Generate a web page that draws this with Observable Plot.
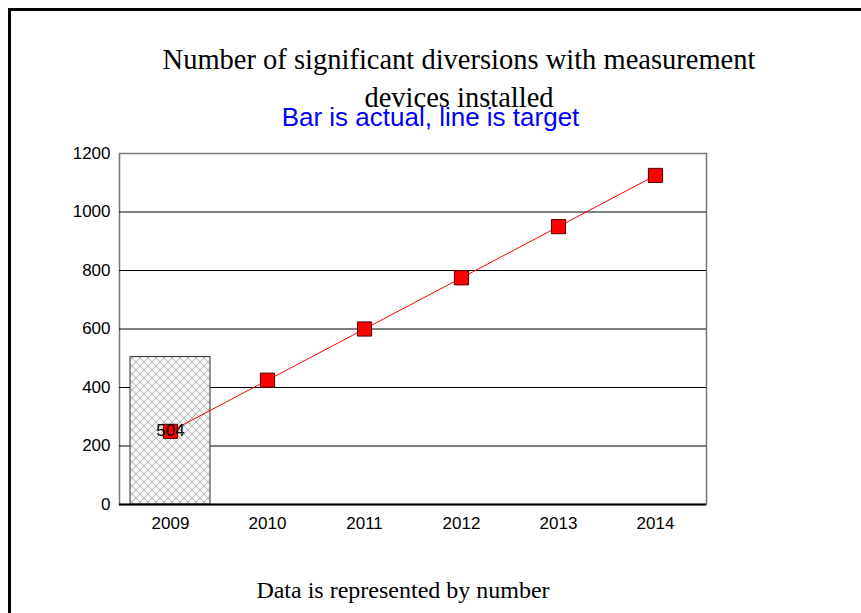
<!DOCTYPE html>
<html>
<head>
<meta charset="utf-8">
<script src="https://cdn.jsdelivr.net/npm/d3@7"></script>
<script src="https://cdn.jsdelivr.net/npm/@observablehq/plot@0.6"></script>
<style>
  html, body { margin: 0; padding: 0; background: #fff; }
  #page { position: relative; width: 861px; height: 613px; overflow: hidden; background: #fff; }
  #frame { position: absolute; left: 8px; top: 8px; width: 900px; height: 700px; border-left: 3px solid #000; border-top: 3px solid #000; }
  .t { position: absolute; white-space: nowrap; }
  #title { left: 0; width: 918px; top: 41px; text-align: center; font-family: "Liberation Serif", serif; font-size: 28.5px; line-height: 38px; color: #000; }
  #subtitle { left: 0; width: 861px; top: 102px; text-align: center; font-family: "Liberation Sans", Arial, sans-serif; font-size: 26px; color: #0000ff; }
  #caption { left: 0; width: 806px; top: 577px; text-align: center; font-family: "Liberation Serif", serif; font-size: 24px; color: #000; }
  #chart { position: absolute; left: 0; top: 130px; }
</style>
</head>
<body>
<div id="page">
  <div id="frame"></div>
  <div class="t" id="title">Number of significant diversions with measurement<br>devices installed</div>
  <div class="t" id="subtitle">Bar is actual, line is target</div>
  <div id="chart"></div>
  <div class="t" id="caption">Data is represented by number</div>
</div>
<script>
const years = ["2009", "2010", "2011", "2012", "2013", "2014"];
const actualYears = ["2009"];
const actualValues = [504];
const targetValues = [250, 425, 600, 775, 950, 1125];
const yTicks = [0, 200, 400, 600, 800, 1000, 1200];
const gridValues = [200, 400, 600, 800, 1000];

const actual = actualYears.map((y, i) => ({year: y, value: actualValues[i]}));
const target = years.map((y, i) => ({year: y, value: targetValues[i]}));

const chart = Plot.plot({
  width: 861,
  height: 420,
  marginTop: 23,
  marginBottom: 46,
  marginLeft: 119,
  marginRight: 155,
  style: {fontFamily: "'Liberation Sans', Arial, sans-serif", fontSize: "17px", color: "#000", background: "transparent"},
  x: {domain: years, paddingInner: 0.18, paddingOuter: 0.09, label: null},
  y: {domain: [0, 1200], label: null},
  marks: [
    Plot.frame({stroke: "#777", strokeWidth: 1.5}),
    Plot.ruleY(gridValues, {stroke: "#000", strokeWidth: 1}),
    Plot.barY(actual, {x: "year", y: "value", fill: "url(#hatch)", stroke: "#333", strokeWidth: 1}),
    Plot.axisY({ticks: yTicks, tickFormat: d => String(d), tickSize: 0, tickPadding: 9, fontSize: 17, label: null}),
    Plot.axisX({tickSize: 0, tickPadding: 12, fontSize: 17, label: null}),
    Plot.ruleY([0], {stroke: "#000", strokeWidth: 2}),
    Plot.lineY(target, {x: "year", y: "value", stroke: "#ff0000", strokeWidth: 1}),
    Plot.dot(target, {x: "year", y: "value", symbol: "square", r: 8, fill: "#ff0000", stroke: "#550000", strokeWidth: 1}),
    Plot.text(actual, {x: "year", y: d => d.value / 2, text: d => String(d.value), fontSize: 17, fill: "#000"})
  ]
});

// hatch pattern defs
const svg = d3.select(chart);
const defs = svg.insert("defs", ":first-child");
const pat = defs.append("pattern").attr("id", "hatch").attr("patternUnits", "userSpaceOnUse")
  .attr("width", 8).attr("height", 8);
pat.append("rect").attr("width", 8).attr("height", 8).attr("fill", "#f4f4f4");
pat.append("path").attr("d", "M0,0L8,8M8,0L0,8").attr("stroke", "#aaa").attr("stroke-width", 0.8);

document.getElementById("chart").appendChild(chart);
</script>
</body>
</html>
